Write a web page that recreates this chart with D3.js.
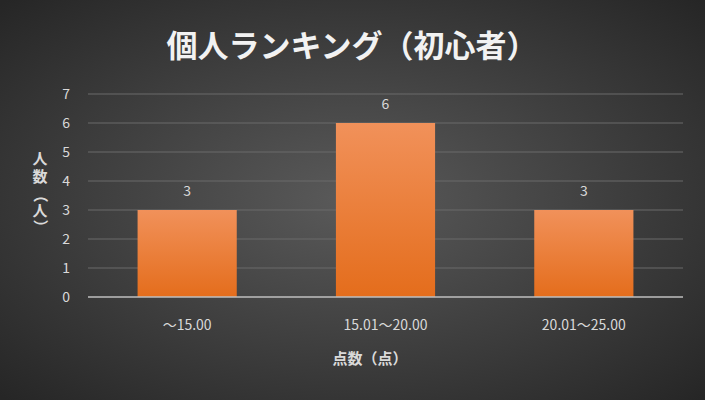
<!DOCTYPE html>
<html><head><meta charset="utf-8">
<script src="https://cdn.jsdelivr.net/npm/d3@7"></script>
<style>body{margin:0;background:#333}svg{display:block}text{font-family:"Noto Sans CJK JP","Noto Sans",sans-serif}</style>
</head><body><svg id="c" width="705" height="400"></svg>
<script>
const categories = ["～15.00", "15.01～20.00", "20.01～25.00"];
const values = [3, 6, 3];
const yTicks = [0, 1, 2, 3, 4, 5, 6, 7];

const svg = d3.select("#c");
const defs = svg.append("defs");
const bg = defs.append("radialGradient").attr("id", "bg").attr("cx", "50%").attr("cy", "50%").attr("r", "70%");
bg.append("stop").attr("offset", "0%").attr("stop-color", "#5a5a5a");
bg.append("stop").attr("offset", "100%").attr("stop-color", "#262626");
const bar = defs.append("linearGradient").attr("id", "bar").attr("x1", 0).attr("y1", 0).attr("x2", 0).attr("y2", 1);
bar.append("stop").attr("offset", "0%").attr("stop-color", "#f1915a");
bar.append("stop").attr("offset", "100%").attr("stop-color", "#e46d1c");

svg.append("rect").attr("width", 705).attr("height", 400).attr("fill", "url(#bg)");

const x = d3.scaleBand().domain(categories).range([88, 683]).paddingInner(0.5).paddingOuter(0.25);
const y = d3.scaleLinear().domain([0, 7]).range([297, 94]);

// gridlines
svg.append("g").selectAll("line").data(yTicks.slice(1)).join("line")
  .attr("x1", 88).attr("x2", 683).attr("y1", d => y(d)).attr("y2", d => y(d))
  .attr("stroke", "#6b6b6b").attr("stroke-width", 1);

// y tick labels
svg.append("g").selectAll("text").data(yTicks).join("text")
  .attr("x", 70).attr("y", d => y(d) + 5).attr("text-anchor", "end")
  .attr("fill", "#d9d9d9").attr("font-size", 14).text(d => d);

// bars
svg.append("g").selectAll("rect").data(values).join("rect")
  .attr("x", (d, i) => x(categories[i])).attr("width", x.bandwidth())
  .attr("y", d => y(d)).attr("height", d => y(0) - y(d))
  .attr("fill", "url(#bar)");

// value labels
svg.append("g").selectAll("text").data(values).join("text")
  .attr("x", (d, i) => x(categories[i]) + x.bandwidth() / 2).attr("y", d => y(d) - 14)
  .attr("text-anchor", "middle").attr("fill", "#d9d9d9").attr("font-size", 14).text(d => d);

// baseline
svg.append("line").attr("x1", 88).attr("x2", 683).attr("y1", y(0)).attr("y2", y(0))
  .attr("stroke", "#bfbfbf").attr("stroke-width", 1.5);

// x labels
svg.append("g").selectAll("text").data(categories).join("text")
  .attr("x", d => x(d) + x.bandwidth() / 2).attr("y", 330)
  .attr("text-anchor", "middle").attr("fill", "#d9d9d9").attr("font-size", 14).text(d => d);

// title
svg.append("text").attr("x", 352).attr("y", 57).attr("text-anchor", "middle")
  .attr("fill", "#f2f2f2").attr("font-size", 31).attr("font-weight", "bold")
  .text("個人ランキング（初心者）");

// axis titles
svg.append("text").attr("x", 370).attr("y", 364).attr("text-anchor", "middle")
  .attr("fill", "#d9d9d9").attr("font-size", 15).attr("font-weight", "bold").text("点数（点）");
const yl = "人数（人）".split("");
const ylY = [164, 182, 200, 216, 232];
svg.append("g").selectAll("text").data(yl).join("text")
  .attr("x", 40).attr("y", (d, i) => ylY[i])
  .attr("text-anchor", "middle").attr("fill", "#d9d9d9").attr("font-size", 15).attr("font-weight", "bold")
  .attr("transform", (d, i) => (d === "（" || d === "）") ? `rotate(90,40,${ylY[i] - 5})` : null)
  .text(d => d);
</script></body></html>
